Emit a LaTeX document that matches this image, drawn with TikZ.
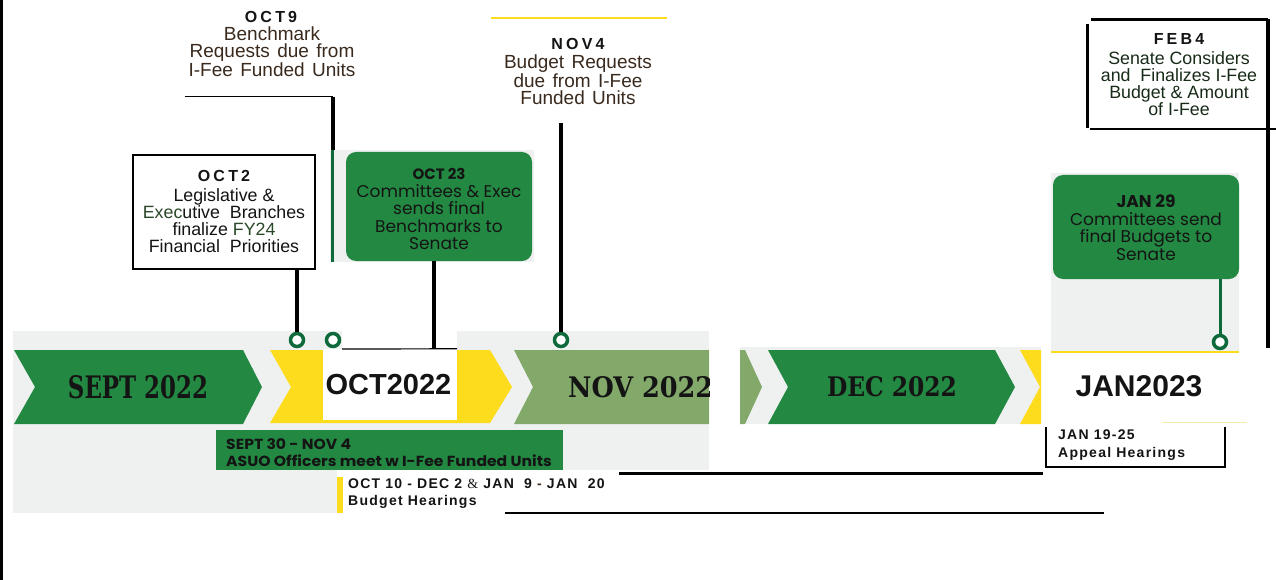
\documentclass[tikz,border=0pt]{standalone}
\usepackage{fontspec}
\usepackage{graphicx}
\setmainfont{Liberation Sans}
\newfontfamily\airyfont{Liberation Sans}[WordSpace=1.4]
\newfontfamily\hdrfont{Liberation Sans}[LetterSpace=20]
\newfontfamily\trackfont{Liberation Sans}[LetterSpace=9]
\newfontfamily\geofont{Poppins}
\newfontfamily\widegeofont{Poppins}[FakeStretch=1.07]
\newfontfamily\slabfont{DejaVu Serif}
\newfontfamily\ampfont{Liberation Serif}
\definecolor{leaf}{RGB}{35,137,66}
\definecolor{sage}{RGB}{130,169,106}
\definecolor{pine}{RGB}{14,106,58}
\definecolor{sun}{RGB}{252,220,28}
\definecolor{paleSun}{RGB}{246,234,170}
\definecolor{mist}{RGB}{239,241,240}
\definecolor{umber}{RGB}{58,42,30}
\definecolor{ink}{RGB}{20,20,20}
\definecolor{moss}{RGB}{40,72,40}
\begin{document}
\begin{tikzpicture}[x=1pt,y=-1pt,
  stem/.style={line width=4pt,draw=black},
  gstem/.style={line width=3pt,draw=pine},
  pin/.style={circle,draw=pine,fill=white,line width=3.5pt,minimum size=13pt,inner sep=0pt},
  rule/.style={draw=black,line width=2.5pt},
  hdr/.style={inner sep=0pt,text=ink,font=\hdrfont\bfseries\fontsize{16}{18}\selectfont},
  body/.style={inner sep=0pt,align=center,font=\fontsize{17.8}{17}\selectfont},
  bigbody/.style={inner sep=0pt,align=center,font=\airyfont\fontsize{19}{17.5}\selectfont},
  ghdr/.style={inner sep=0pt,text=ink,font=\geofont\bfseries\fontsize{15}{17}\selectfont},
  gbody/.style={inner sep=0pt,align=center,text=ink,font=\geofont\fontsize{17}{17.3}\selectfont},
  evbox/.style={fill=leaf,rounded corners=10pt,inner sep=0pt},
  month/.style={inner sep=0pt,text=ink},
  band/.style={inner sep=0pt,align=left,anchor=west,text=ink},
]
\useasboundingbox (0,0) rectangle (1276,580);
\fill[white] (0,0) rectangle (1276,580);

% light backdrop panels
\fill[mist] (13,331) rectangle (709,470);
\fill[mist] (13,470) rectangle (337,513);
\fill[mist] (740,347) rectangle (1041,424);
\fill[mist] (1051,173) rectangle (1239,352);
\fill[mist] (330,150) rectangle (534,262);

% month chevrons
\fill[leaf] (14,350) -- (243,350) -- (262,387) -- (243,424) -- (14,424) -- (35,387) -- cycle;
\fill[sun] (270,350) -- (490,350) -- (512,387) -- (490,423) -- (270,423) -- (291,387) -- cycle;
\begin{scope}
  \clip (457,331) rectangle (709,470);
  \fill[sage] (514,350) -- (720,350) -- (720,424) -- (514,424) -- (533,387) -- cycle;
  \node[month,anchor=west] (novlbl) at (568,387) {\resizebox{145pt}{21pt}{\slabfont\bfseries NOV 2022}};
\end{scope}
\fill[sage] (740,350) -- (745,350) -- (762,387) -- (745,424) -- (740,424) -- cycle;
\fill[leaf] (768,350) -- (995,350) -- (1015,387) -- (995,424) -- (768,424) -- (788,387) -- cycle;
\fill[sun] (1020,350) -- (1041,350) -- (1041,424) -- (1020,424) -- (1040,387) -- cycle;

\node[month] (septlbl) at (138,387) {\resizebox{140pt}{23pt}{\slabfont\bfseries SEPT 2022}};
\node[month] (declbl) at (892,387) {\resizebox{130pt}{20pt}{\slabfont\bfseries DEC 2022}};

% October label box
\fill[white] (342,331) rectangle (457,349);
\node[fill=white,minimum width=134pt,minimum height=71pt,inner sep=0pt] (oct22) at (390,384.5) {};
\draw[black,line width=1.2pt] (342,349) -- (oct22.north east);
\node[inner sep=0pt,text=ink,font=\bfseries\fontsize{29}{30}\selectfont] (oct22lbl) at (388.5,385) {OCT2022};

% January label
\node[inner sep=0pt,text=ink,font=\bfseries\fontsize{30}{32}\selectfont] (jan23lbl) at (1139,386) {JAN2023};
\draw[paleSun,line width=1pt] (1162,422) -- (1247,422);
\draw[sun,line width=2pt] (1051,352) -- (1239,352);

% OCT 9
\node[hdr] (oct9h) at (271,17) {OCT9};
\node[bigbody,text=umber] (oct9b) at (272,51.5) {Benchmark\\Requests due from\\I-Fee Funded Units};
\coordinate (oct9foot) at (185,96.7);
\coordinate (oct9knee) at (332.5,96.7);
\draw[black,line width=1pt] (oct9foot) -- (oct9knee);
\draw[stem] (oct9knee) -- ++(0,53.3) coordinate (oct9mid);
\draw[gstem] (oct9mid) -- ++(0,112);

% OCT 2
\node[rule,draw,minimum width=182pt,minimum height=114pt,inner sep=0pt] (oct2box) at (224,212) {};
\node[hdr] (oct2h) at (224,176) {OCT2};
\node[body,text=ink] (oct2b) at (224,220.5) {Legislative \&\\\textcolor{moss}{Exec}utive\ \ Branches\\finalize \textcolor{moss}{FY24}\\Financial\ \ Priorities};
\node[pin] (pinA) at (297,340) {};
\node[pin] (pinB) at (333,340) {};
\draw[stem] (oct2box.south -| pinA) -- (pinA.north);

% OCT 23
\node[evbox,minimum width=186pt,minimum height=109pt] (oct23) at (439,206.5) {};
\node[ghdr,font=\geofont\bfseries\fontsize{15}{17}\selectfont] (oct23h) at (439,174) {OCT 23};
\node[gbody] (oct23b) at (439,217) {Committees \& Exec\\sends final\\Benchmarks to\\Senate};
\draw[stem] ([xshift=-5pt]oct23.south) -- ([xshift=-5pt]oct23.south |- oct22.north);

% NOV 4
\draw[sun,line width=1.5pt] (491,18) -- (667,18);
\node[hdr] (nov4h) at (578,44) {NOV4};
\node[bigbody,text=umber] (nov4b) at (578,80) {Budget Requests\\due from I-Fee\\Funded Units};
\node[pin] (pinC) at (561,340) {};
\coordinate (nov4foot) at (560,123);
\draw[stem] (pinC.north |- nov4foot) -- (pinC.north);

% JAN 29
\node[evbox,minimum width=186pt,minimum height=104pt] (jan29) at (1146,227) {};
\node[ghdr,font=\geofont\bfseries\fontsize{17}{17}\selectfont] (jan29h) at (1146,201) {JAN 29};
\node[gbody] (jan29b) at (1146,236.5) {Committees send\\final Budgets to\\Senate};
\node[pin] (pinD) at (1220,342) {};
\draw[gstem] (jan29.south -| pinD) -- (pinD.north);

% FEB 4
\draw[black,line width=2.5pt] (1091,19.5) -- (1268,19.5);
\draw[black,line width=3pt] (1087.5,24) -- (1087.5,128);
\draw[black,line width=2.5pt] (1090,129) -- (1276,129);
\draw[black,line width=4pt] (1268,19) -- (1268,348);
\node[hdr] (feb4h) at (1179,39) {FEB4};
\node[body,text=moss!60!black] (feb4b) at (1179,84) {Senate Considers\\and\ \ Finalizes I-Fee\\Budget \& Amount\\of I-Fee};

% lower bands
\node[fill=leaf,minimum width=347pt,minimum height=40pt,inner sep=0pt] (asuo) at (389.5,450) {};
\node[band,font=\widegeofont\bfseries\fontsize{14.6}{17}\selectfont] (asuotxt) at (226,452.5) {SEPT 30 - NOV 4\\ASUO Officers meet w I-Fee Funded Units};
\fill[white] (343,474) rectangle (620,513);
\fill[sun] (337,477) rectangle (343,513);
\node[band,font=\trackfont\bfseries\fontsize{14}{17}\selectfont] (hear) at (348,493.5) {OCT 10 - DEC 2 {\ampfont\mdseries\&} JAN\ \ 9 \textcolor{umber}{-} JAN\ \ 20\\Budget Hearings};
\draw[black,line width=2.3pt] (619,473.5) -- (1043,473.5);
\draw[black,line width=1.3pt] (505,513) -- (1104,513);

% appeal box
\draw[black,line width=2.5pt] (1046,427) -- (1046,468);
\draw[black,line width=2.5pt] (1046,467) -- (1226,467);
\draw[black,line width=2.5pt] (1225,427) -- (1225,468);
\node[band,font=\trackfont\bfseries\fontsize{14}{18}\selectfont] (appeal) at (1058,445) {JAN 19-25\\Appeal Hearings};

% page edge
\draw[black,line width=3pt] (1.5,0) -- (1.5,580);
\end{tikzpicture}
\end{document}
